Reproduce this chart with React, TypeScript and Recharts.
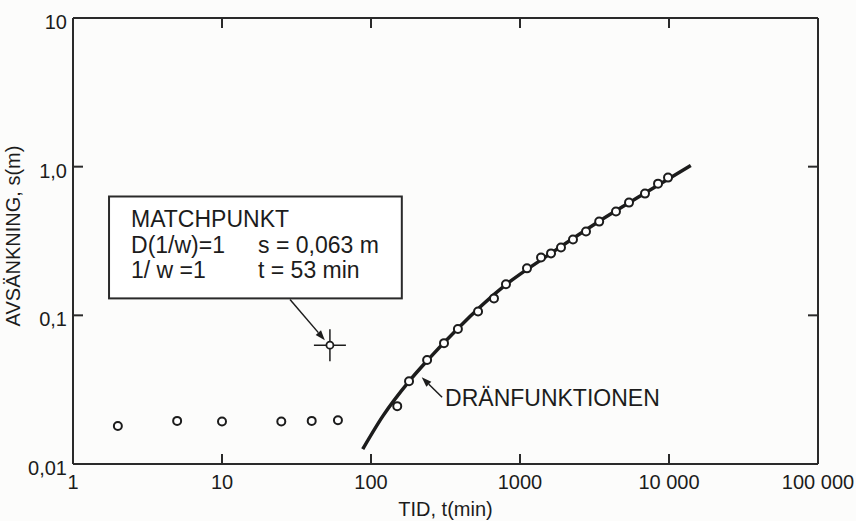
import {
  ComposedChart,
  XAxis,
  YAxis,
  Line,
  Scatter,
  ReferenceArea,
  ReferenceLine,
  Label,
} from "recharts";

// axis ticks
const xTicks = [1, 10, 100, 1000, 10000, 100000];
const xTickLabels = ["1", "10", "100", "1000", "10 000", "100 000"];
const yTicks = [0.01, 0.1, 1, 10];
const yTickLabels = ["0,01", "0,1", "1,0", "10"];

// measured drawdown (open circles)
const obsTime = [
  2, 5, 10, 25, 40, 60, 150, 180, 238, 309, 383, 523, 669, 805, 1114, 1384,
  1615, 1884, 2268, 2773, 3400, 4406, 5391, 6900, 8440, 9850,
];
const obsDrawdown = [
  0.018, 0.0195, 0.0193, 0.0193, 0.0195, 0.0197, 0.0245, 0.036, 0.05, 0.065,
  0.081, 0.106, 0.13, 0.162, 0.207, 0.245, 0.261, 0.286, 0.324, 0.366, 0.427,
  0.499, 0.573, 0.659, 0.769, 0.844,
];

// type curve "dränfunktionen"
const curveTime = [88, 120, 180, 240, 380, 800, 1600, 3400, 7000, 14000];
const curveDrawdown = [
  0.0126, 0.021, 0.036, 0.05, 0.081, 0.16, 0.26, 0.43, 0.67, 1.02,
];

// match point
const matchTime = [53];
const matchDrawdown = [0.063];

const obs = obsTime.map((t, i) => ({ t, s: obsDrawdown[i] }));
const curve = curveTime.map((t, i) => ({ t, s: curveDrawdown[i] }));
const match = matchTime.map((t, i) => ({ t, s: matchDrawdown[i] }));

const INK = "#1c1c1c";
const FRAME = "#2a2a2a";
const FONT = "'Liberation Sans', Arial, sans-serif";
const TICK = 10;

const BottomTick = (p: any) => {
  const { x, y, payload } = p;
  const i = xTicks.indexOf(payload.value);
  return (
    <text x={x} y={y + 25} textAnchor="middle" fontSize={20} fill={INK} fontFamily={FONT}>
      {xTickLabels[i]}
    </text>
  );
};

const LeftTick = (p: any) => {
  const { x, y, payload } = p;
  const i = yTicks.indexOf(payload.value);
  return (
    <text x={x - 6} y={y + 11} textAnchor="end" fontSize={20} fill={INK} fontFamily={FONT}>
      {yTickLabels[i]}
    </text>
  );
};

// inward tick marks at both ends of a full-height / full-width reference line
const VTicks = (p: any) => {
  const { x1, y1, x2, y2 } = p;
  const top = Math.min(y1, y2);
  const bot = Math.max(y1, y2);
  return (
    <g stroke={FRAME} strokeWidth={2}>
      <line x1={x1} y1={top} x2={x2} y2={top + TICK} />
      <line x1={x1} y1={bot} x2={x2} y2={bot - TICK} />
    </g>
  );
};

const HTicks = (p: any) => {
  const { x1, y1, x2, y2 } = p;
  const l = Math.min(x1, x2);
  const r = Math.max(x1, x2);
  return (
    <g stroke={FRAME} strokeWidth={2}>
      <line x1={l} y1={y1} x2={l + TICK} y2={y2} />
      <line x1={r} y1={y1} x2={r - TICK} y2={y2} />
    </g>
  );
};

const OpenCircle = (p: any) => (
  <circle cx={p.cx} cy={p.cy} r={4} fill="#fff" stroke={INK} strokeWidth={2} />
);

const Crosshair = (p: any) => {
  const { cx, cy } = p;
  return (
    <g stroke={INK} strokeWidth={1.5}>
      <line x1={cx - 16} y1={cy} x2={cx + 16} y2={cy} />
      <line x1={cx} y1={cy - 16} x2={cx} y2={cy + 16} />
      <circle cx={cx} cy={cy} r={3.5} fill="#fff" strokeWidth={1.8} />
    </g>
  );
};

const Arrow = (p: any) => {
  const { x1, y1, x2, y2, text } = p;
  const a = Math.atan2(y2 - y1, x2 - x1);
  const L = 10;
  const W = 3.5;
  const bx = x2 - L * Math.cos(a);
  const by = y2 - L * Math.sin(a);
  const pts = `${x2},${y2} ${bx + W * Math.sin(a)},${by - W * Math.cos(a)} ${bx - W * Math.sin(a)},${by + W * Math.cos(a)}`;
  return (
    <g>
      <line x1={x1} y1={y1} x2={bx} y2={by} stroke={INK} strokeWidth={1.5} />
      <polygon points={pts} fill={INK} />
      {text && (
        <text x={x1 + 3} y={y1 + 9} fontSize={23} fill={INK} fontFamily={FONT}>
          {text}
        </text>
      )}
    </g>
  );
};

const MatchBox = (p: any) => {
  const { x, y, width, height } = p;
  const tx = x + 22;
  const tx2 = x + 149;
  return (
    <g fontFamily={FONT} fontSize={23} fill={INK}>
      <rect x={x} y={y} width={width} height={height} fill="#fff" stroke={FRAME} strokeWidth={2} />
      <text x={tx} y={y + 31}>MATCHPUNKT</text>
      <text x={tx} y={y + 57}>D(1/w)=1</text>
      <text x={tx2} y={y + 57}>s = 0,063 m</text>
      <text x={tx} y={y + 82}>1/ w =1</text>
      <text x={tx2} y={y + 82}>t = 53 min</text>
    </g>
  );
};

const axisLine = { stroke: FRAME, strokeWidth: 2 };

export default function App() {
  return (
    <div style={{ position: "absolute", left: 0, top: 0, background: "#fcfcfb" }}>
      <ComposedChart
        width={856}
        height={521}
        margin={{ top: 18, right: 38, bottom: 0, left: 13 }}
      >
        <XAxis
          dataKey="t"
          type="number"
          scale="log"
          domain={[1, 100000]}
          ticks={xTicks}
          interval={0}
          allowDataOverflow
          height={57}
          tickSize={0}
          tickMargin={0}
          tickLine={false}
          axisLine={axisLine}
          tick={<BottomTick />}
        >
          <Label
            value="TID, t(min)"
            position="insideBottom"
            offset={5}
            fontSize={20}
            fill={INK}
            fontFamily={FONT}
          />
        </XAxis>
        <YAxis
          dataKey="s"
          type="number"
          scale="log"
          domain={[0.01, 10]}
          ticks={yTicks}
          interval={0}
          allowDataOverflow
          width={60}
          tickSize={0}
          tickMargin={0}
          tickLine={false}
          axisLine={axisLine}
          tick={<LeftTick />}
        >
          <Label
            content={(lp: any) => {
              const vb = lp.viewBox;
              const cx = vb.x;
              const cy = vb.y + vb.height / 2 - 5;
              return (
                <text
                  x={cx}
                  y={cy}
                  transform={`rotate(-90 ${cx} ${cy})`}
                  textAnchor="middle"
                  dominantBaseline="central"
                  fontSize={20}
                  fill={INK}
                  fontFamily={FONT}
                >
                  AVSÄNKNING, s(m)
                </text>
              );
            }}
          />
        </YAxis>

        {/* frame: top and right edges */}
        <ReferenceLine
          y={yTicks[yTicks.length - 1]}
          stroke={FRAME}
          strokeWidth={2}
          ifOverflow="visible"
        />
        <ReferenceLine
          x={xTicks[xTicks.length - 1]}
          stroke={FRAME}
          strokeWidth={2}
          ifOverflow="visible"
        />
        {/* inward tick marks on all four sides */}
        {xTicks.slice(1, -1).map((v) => (
          <ReferenceLine key={`xt${v}`} x={v} ifOverflow="visible" shape={<VTicks />} />
        ))}
        {yTicks.slice(1, -1).map((v) => (
          <ReferenceLine key={`yt${v}`} y={v} ifOverflow="visible" shape={<HTicks />} />
        ))}

        <ReferenceArea
          x1={1.745}
          x2={161}
          y1={0.13}
          y2={0.63}
          ifOverflow="visible"
          shape={<MatchBox />}
        />
        <ReferenceLine
          segment={[
            { x: 28.6, y: 0.128 },
            { x: 49, y: 0.068 },
          ]}
          ifOverflow="visible"
          shape={<Arrow />}
        />
        <ReferenceLine
          segment={[
            { x: 300, y: 0.0281 },
            { x: 219, y: 0.0384 },
          ]}
          ifOverflow="visible"
          shape={<Arrow text="DRÄNFUNKTIONEN" />}
        />
        <Line
          data={curve}
          dataKey="s"
          type="monotone"
          stroke={INK}
          strokeWidth={3.5}
          dot={false}
          activeDot={false}
          isAnimationActive={false}
        />
        <Scatter data={obs} dataKey="s" shape={<OpenCircle />} isAnimationActive={false} />
        <Scatter data={match} dataKey="s" shape={<Crosshair />} isAnimationActive={false} />
      </ComposedChart>
    </div>
  );
}
